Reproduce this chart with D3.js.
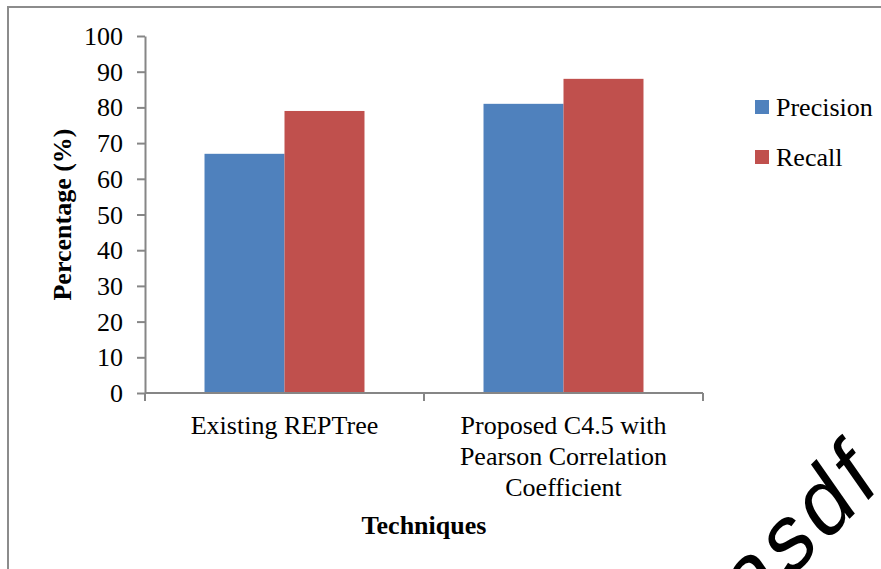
<!DOCTYPE html>
<html>
<head>
<meta charset="utf-8">
<script src="https://cdn.jsdelivr.net/npm/d3@7"></script>
<style>
  html, body { margin: 0; padding: 0; background: #fff; }
  svg { display: block; }
  text { font-family: "Liberation Serif", "Times New Roman", serif; fill: #000; }
</style>
</head>
<body>
<svg id="chart" width="881" height="569"></svg>
<script>
const categories = ["Existing REPTree", "Proposed C4.5 with\nPearson Correlation\nCoefficient"];
const seriesNames = ["Precision", "Recall"];
const precision = [67, 81];
const recall = [79, 88];
const yTicks = [0, 10, 20, 30, 40, 50, 60, 70, 80, 90, 100];
const colors = ["#4f81bd", "#c0504d"];
const seriesValues = [precision, recall];

const svg = d3.select("#chart");
const W = 881, H = 569;
const plot = { left: 145, right: 703, top: 36, bottom: 393 };
const axisColor = "#868686";
const fs = 26;

// frame
svg.append("rect").attr("x", 8).attr("y", 7).attr("width", W + 20).attr("height", H + 20)
  .attr("fill", "none").attr("stroke", "#8c8c8c").attr("stroke-width", 2);

const y = d3.scaleLinear().domain([0, 100]).range([plot.bottom, plot.top]);
const x0 = d3.scaleBand().domain(categories).range([plot.left, plot.right]).padding(0);
const x1 = d3.scaleBand().domain(seriesNames).range([0, x0.bandwidth()]).paddingInner(0).paddingOuter(0.744);

// bars
categories.forEach((c, ci) => {
  seriesNames.forEach((s, si) => {
    const v = seriesValues[si][ci];
    svg.append("rect")
      .attr("x", x0(c) + x1(s))
      .attr("y", y(v))
      .attr("width", x1.bandwidth())
      .attr("height", y(0) - y(v))
      .attr("fill", colors[si]);
  });
});

// y axis
const yAxis = svg.append("g").attr("transform", `translate(${plot.left},0)`)
  .call(d3.axisLeft(y).tickValues(yTicks).tickSize(8).tickPadding(14).tickSizeOuter(0));
yAxis.select(".domain").attr("stroke", axisColor).attr("stroke-width", 2);
yAxis.selectAll(".tick line").attr("stroke", axisColor).attr("stroke-width", 2);
yAxis.selectAll(".tick text").attr("font-size", fs).attr("font-family", "Liberation Serif").attr("fill", "#000").attr("dy", "0.33em");

// x axis
const xAxisG = svg.append("g").attr("transform", `translate(0,${plot.bottom})`);
xAxisG.append("line").attr("x1", plot.left).attr("x2", plot.right).attr("y1", 0).attr("y2", 0)
  .attr("stroke", axisColor).attr("stroke-width", 2);
const bounds = categories.map(c => x0(c)).concat([x0(categories[categories.length - 1]) + x0.bandwidth()]);
xAxisG.selectAll("line.tk").data(bounds).enter().append("line").attr("class", "tk")
  .attr("x1", d => d).attr("x2", d => d).attr("y1", 0).attr("y2", 8)
  .attr("stroke", axisColor).attr("stroke-width", 2);

categories.forEach(c => {
  const lines = c.split("\n");
  const t = svg.append("text").attr("text-anchor", "middle").attr("font-size", fs)
    .attr("x", x0(c) + x0.bandwidth() / 2).attr("y", 434);
  lines.forEach((l, i) => {
    t.append("tspan").attr("x", x0(c) + x0.bandwidth() / 2).attr("dy", i === 0 ? 0 : 31).text(l);
  });
});

// axis titles
svg.append("text").attr("text-anchor", "middle").attr("font-size", fs).attr("font-weight", "bold")
  .attr("x", (plot.left + plot.right) / 2).attr("y", 534).text("Techniques");
svg.append("text").attr("text-anchor", "middle").attr("font-size", fs).attr("font-weight", "bold")
  .attr("transform", `translate(71,${(plot.top + plot.bottom) / 2}) rotate(-90)`).text("Percentage (%)");

// legend
seriesNames.forEach((s, i) => {
  const ly = 100 + i * 50;
  svg.append("rect").attr("x", 755).attr("y", ly).attr("width", 14).attr("height", 14).attr("fill", colors[i]);
  svg.append("text").attr("x", 776).attr("y", ly + 16).attr("font-size", fs).text(s);
});

// watermark
svg.append("text").attr("font-size", 82).attr("letter-spacing", 5)
  .style("font-family", "'Liberation Sans', Arial, sans-serif")
  .attr("transform", "translate(750,619) scale(1,1.2) rotate(-40)").text("asdf asdf");
</script>
</body>
</html>
